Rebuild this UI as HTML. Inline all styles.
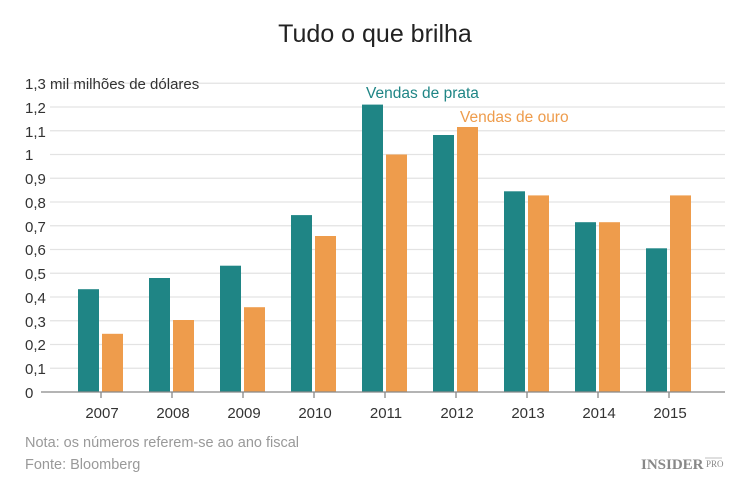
<!DOCTYPE html>
<html><head><meta charset="utf-8"><style>
html,body{margin:0;padding:0;background:#fff;}
svg{display:block;font-family:"Liberation Sans","DejaVu Sans",sans-serif;}
</style></head><body>
<svg width="750" height="482" viewBox="0 0 750 482">
<text x="375" y="42" text-anchor="middle" font-size="25" fill="#222">Tudo o que brilha</text>
<g stroke="#e3e3e3" stroke-width="1.2">
<line x1="50" x2="725" y1="83.25" y2="83.25"/>
<line x1="50" x2="725" y1="107" y2="107"/>
<line x1="50" x2="725" y1="130.75" y2="130.75"/>
<line x1="50" x2="725" y1="154.5" y2="154.5"/>
<line x1="50" x2="725" y1="178.25" y2="178.25"/>
<line x1="50" x2="725" y1="202" y2="202"/>
<line x1="50" x2="725" y1="225.75" y2="225.75"/>
<line x1="50" x2="725" y1="249.5" y2="249.5"/>
<line x1="50" x2="725" y1="273.25" y2="273.25"/>
<line x1="50" x2="725" y1="297" y2="297"/>
<line x1="50" x2="725" y1="320.75" y2="320.75"/>
<line x1="50" x2="725" y1="344.5" y2="344.5"/>
<line x1="50" x2="725" y1="368.25" y2="368.25"/>
</g>
<g font-size="15" fill="#333">
<text x="25" y="89">1,3 mil milhões de dólares</text>
<text x="25" y="113">1,2</text>
<text x="25" y="137">1,1</text>
<text x="25" y="160">1</text>
<text x="25" y="184">0,9</text>
<text x="25" y="208">0,8</text>
<text x="25" y="232">0,7</text>
<text x="25" y="255">0,6</text>
<text x="25" y="279">0,5</text>
<text x="25" y="303">0,4</text>
<text x="25" y="327">0,3</text>
<text x="25" y="350">0,2</text>
<text x="25" y="374">0,1</text>
<text x="25" y="398">0</text>
</g>
<g fill="#1f8585">
<rect x="78" y="289.2" width="21" height="102.8"/>
<rect x="149" y="278" width="21" height="114"/>
<rect x="220" y="265.7" width="21" height="126.3"/>
<rect x="291" y="215.1" width="21" height="176.9"/>
<rect x="362" y="104.6" width="21" height="287.4"/>
<rect x="433" y="135" width="21" height="257"/>
<rect x="504" y="191.3" width="21" height="200.7"/>
<rect x="575" y="222.2" width="21" height="169.8"/>
<rect x="646" y="248.3" width="21" height="143.7"/>
</g>
<g fill="#ee9c4c">
<rect x="102" y="333.8" width="21" height="58.2"/>
<rect x="173" y="320" width="21" height="72"/>
<rect x="244" y="307.2" width="21" height="84.8"/>
<rect x="315" y="236" width="21" height="156"/>
<rect x="386" y="154.5" width="21" height="237.5"/>
<rect x="457" y="127" width="21" height="265"/>
<rect x="528" y="195.4" width="21" height="196.6"/>
<rect x="599" y="222.2" width="21" height="169.8"/>
<rect x="670" y="195.4" width="21" height="196.6"/>
</g>
<line x1="41" x2="725" y1="392" y2="392" stroke="#888" stroke-width="1.3"/>
<g stroke="#888" stroke-width="1.3">
<line x1="101" x2="101" y1="392" y2="398"/><line x1="172" x2="172" y1="392" y2="398"/>
<line x1="243" x2="243" y1="392" y2="398"/><line x1="314" x2="314" y1="392" y2="398"/>
<line x1="385" x2="385" y1="392" y2="398"/><line x1="456" x2="456" y1="392" y2="398"/>
<line x1="527" x2="527" y1="392" y2="398"/><line x1="598" x2="598" y1="392" y2="398"/>
<line x1="669" x2="669" y1="392" y2="398"/>
</g>
<g font-size="15" fill="#333" text-anchor="middle">
<text x="102" y="418">2007</text><text x="173" y="418">2008</text><text x="244" y="418">2009</text>
<text x="315" y="418">2010</text><text x="386" y="418">2011</text><text x="457" y="418">2012</text>
<text x="528" y="418">2013</text><text x="599" y="418">2014</text><text x="670" y="418">2015</text>
</g>
<text x="366" y="98" font-size="15.5" fill="#1f8585">Vendas de prata</text>
<text x="460" y="122" font-size="15.5" fill="#ee9c4c">Vendas de ouro</text>
<text x="25" y="447" font-size="14.5" fill="#999">Nota: os números referem-se ao ano fiscal</text>
<text x="25" y="469" font-size="14.5" fill="#999">Fonte: Bloomberg</text>
<text x="641" y="469" font-size="15" font-weight="bold" fill="#888" font-family="Liberation Serif,serif">INSIDER</text>
<text x="706" y="467" font-size="9" fill="#888" font-family="Liberation Serif,serif">PRO</text>
<line x1="705" x2="722" y1="458" y2="458" stroke="#aaa" stroke-width="0.8"/>
</svg>
</body></html>
